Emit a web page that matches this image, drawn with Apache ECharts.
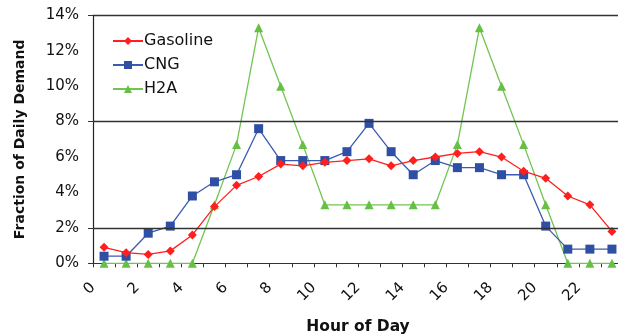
<!DOCTYPE html>
<html>
<head>
<meta charset="utf-8">
<script src="https://cdn.jsdelivr.net/npm/echarts@6/dist/echarts.min.js"></script>
<style>html,body{margin:0;padding:0;background:#fff}#c{width:618px;height:335px}</style>
</head>
<body>
<div id="c"></div>
<script>
const hours = [0.5,1.5,2.5,3.5,4.5,5.5,6.5,7.5,8.5,9.5,10.5,11.5,12.5,13.5,14.5,15.5,16.5,17.5,18.5,19.5,20.5,21.5,22.5,23.5];
const gasoline = [0.9,0.6,0.5,0.7,1.6,3.2,4.4,4.9,5.6,5.5,5.7,5.8,5.9,5.5,5.8,6.0,6.2,6.3,6.0,5.2,4.8,3.8,3.3,1.8];
const cng = [0.4,0.4,1.7,2.1,3.8,4.6,5.0,7.6,5.8,5.8,5.8,6.3,7.9,6.3,5.0,5.8,5.4,5.4,5.0,5.0,2.1,0.8,0.8,0.8];
const h2a = [0,0,0,0,0,3.3,6.7,13.3,10.0,6.7,3.3,3.3,3.3,3.3,3.3,3.3,6.7,13.3,10.0,6.7,3.3,0,0,0];
const xTickLabels = ['0','2','4','6','8','10','12','14','16','18','20','22'];
const gridValues = [2,8,14];
const seriesNames = ['Gasoline','CNG','H2A'];

const pair = arr => arr.map((v,i)=>[hours[i], v]);
const chart = echarts.init(document.getElementById('c'), null, {renderer:'canvas'});
const font = 'DejaVu Sans';
chart.setOption({
  animation:false,
  backgroundColor:'#fff',
  grid:{left:93, width:530, top:15.3, height:248, containLabel:false, outerBoundsMode:'none'},
  legend:{
    orient:'vertical', left:107, top:28, itemWidth:30, itemHeight:10, itemGap:8,
    data:seriesNames,
    textStyle:{fontFamily:font, fontSize:16, color:'#111', padding:[0,0,0,-4]}
  },
  xAxis:{
    type:'value', min:0, max:24, interval:1,
    name:'Hour of Day', nameLocation:'middle', nameGap:56,
    nameTextStyle:{fontFamily:font, fontWeight:'bold', fontSize:15.5, color:'#111'},
    axisLine:{lineStyle:{color:'#333', width:1.2}},
    axisTick:{show:true, length:4, lineStyle:{color:'#333'}},
    splitLine:{show:false},
    axisLabel:{
      rotate:45, margin:22, fontFamily:font, fontSize:15, color:'#111',
      formatter:v=>{const i=xTickLabels.indexOf(String(v)); return i>=0?xTickLabels[i]:'';}
    }
  },
  yAxis:{
    type:'value', min:0, max:14, interval:2,
    name:'Fraction of Daily Demand', nameLocation:'middle', nameGap:66, nameRotate:90,
    nameTextStyle:{fontFamily:font, fontWeight:'bold', fontSize:14, color:'#111'},
    axisLine:{show:true, lineStyle:{color:'#222', width:1.2}},
    axisTick:{show:true, length:5, customValues:[0].concat(gridValues), lineStyle:{color:'#333'}},
    splitLine:{show:false},
    axisLabel:{margin:14, fontFamily:font, fontSize:15, color:'#111', formatter:v=>v+'%'}
  },
  series:[
    {name:'Gasoline', type:'line', data:pair(gasoline), symbol:'diamond', symbolSize:9,
     itemStyle:{color:'#ff1f1f'}, lineStyle:{color:'#ff1f1f', width:1.3}, z:4,
     markLine:{silent:true, symbol:'none', label:{show:false},
       lineStyle:{color:'#333', width:1.3, type:'solid'},
       data:gridValues.map(v=>({yAxis:v}))}},
    {name:'CNG', type:'line', data:pair(cng), symbol:'rect', symbolSize:9,
     itemStyle:{color:'#2f4fa5'}, lineStyle:{color:'#3a5bb0', width:1.3}, z:3},
    {name:'H2A', type:'line', data:pair(h2a), symbol:'triangle', symbolSize:9,
     itemStyle:{color:'#66c044'}, lineStyle:{color:'#72c452', width:1.3}, z:2}
  ]
});
</script>
</body>
</html>
